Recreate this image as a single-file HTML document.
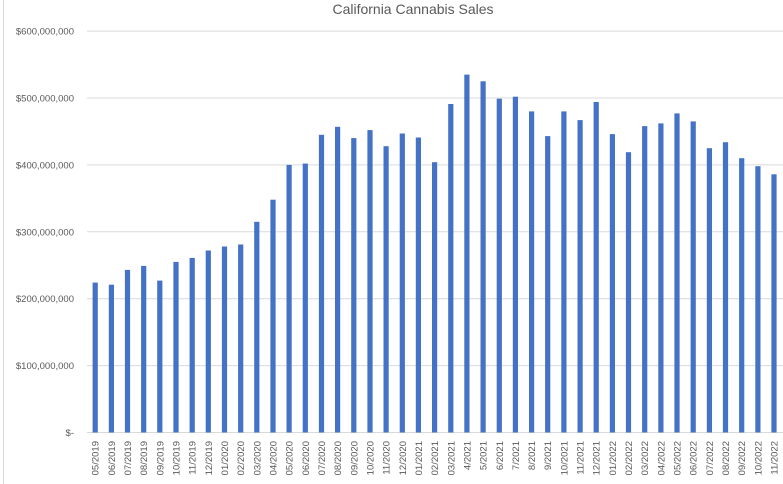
<!DOCTYPE html>
<html><head><style>body{margin:0;background:#fff}svg{display:block}</style></head><body>
<svg width="783" height="484" xmlns="http://www.w3.org/2000/svg" font-family="Liberation Sans, sans-serif">
<rect width="783" height="484" fill="#fff"/>
<line x1="3.5" y1="0" x2="3.5" y2="484" stroke="#d9d9d9"/>
<text x="413" y="14" text-anchor="middle" font-size="14" fill="#595959">California Cannabis Sales</text>
<g stroke="#d9d9d9">
<line x1="87" x2="783" y1="31.1" y2="31.1"/>
<line x1="87" x2="783" y1="98" y2="98"/>
<line x1="87" x2="783" y1="164.9" y2="164.9"/>
<line x1="87" x2="783" y1="231.8" y2="231.8"/>
<line x1="87" x2="783" y1="298.7" y2="298.7"/>
<line x1="87" x2="783" y1="365.6" y2="365.6"/>
<line x1="87" x2="783" y1="432.5" y2="432.5"/>
</g>
<g font-size="9.5" fill="#595959" text-anchor="end">
<text x="74" y="34.6">$600,000,000</text>
<text x="74" y="101.5">$500,000,000</text>
<text x="74" y="168.4">$400,000,000</text>
<text x="74" y="235.3">$300,000,000</text>
<text x="74" y="302.2">$200,000,000</text>
<text x="74" y="369.1">$100,000,000</text>
<text x="74" y="436">$-</text>
</g>
<g transform="translate(0,432.5) scale(1,-1)" fill="#4472c4">
<rect x="92.6" y="0" width="5.2" height="149.9"/>
<rect x="108.8" y="0" width="5.2" height="147.8"/>
<rect x="124.9" y="0" width="5.2" height="162.6"/>
<rect x="141.1" y="0" width="5.2" height="166.6"/>
<rect x="157.2" y="0" width="5.2" height="151.9"/>
<rect x="173.4" y="0" width="5.2" height="170.6"/>
<rect x="189.6" y="0" width="5.2" height="174.6"/>
<rect x="205.7" y="0" width="5.2" height="182.0"/>
<rect x="221.9" y="0" width="5.2" height="186.0"/>
<rect x="238.1" y="0" width="5.2" height="188.0"/>
<rect x="254.2" y="0" width="5.2" height="210.7"/>
<rect x="270.4" y="0" width="5.2" height="232.8"/>
<rect x="286.5" y="0" width="5.2" height="267.6"/>
<rect x="302.7" y="0" width="5.2" height="268.9"/>
<rect x="318.9" y="0" width="5.2" height="297.7"/>
<rect x="335.0" y="0" width="5.2" height="305.7"/>
<rect x="351.2" y="0" width="5.2" height="294.4"/>
<rect x="367.4" y="0" width="5.2" height="302.4"/>
<rect x="383.5" y="0" width="5.2" height="286.3"/>
<rect x="399.7" y="0" width="5.2" height="299.0"/>
<rect x="415.8" y="0" width="5.2" height="295.0"/>
<rect x="432.0" y="0" width="5.2" height="270.3"/>
<rect x="448.2" y="0" width="5.2" height="328.5"/>
<rect x="464.3" y="0" width="5.2" height="357.9"/>
<rect x="480.5" y="0" width="5.2" height="351.2"/>
<rect x="496.7" y="0" width="5.2" height="333.8"/>
<rect x="512.8" y="0" width="5.2" height="335.8"/>
<rect x="529.0" y="0" width="5.2" height="321.1"/>
<rect x="545.1" y="0" width="5.2" height="296.4"/>
<rect x="561.3" y="0" width="5.2" height="321.1"/>
<rect x="577.5" y="0" width="5.2" height="312.4"/>
<rect x="593.6" y="0" width="5.2" height="330.5"/>
<rect x="609.8" y="0" width="5.2" height="298.4"/>
<rect x="625.9" y="0" width="5.2" height="280.3"/>
<rect x="642.1" y="0" width="5.2" height="306.4"/>
<rect x="658.3" y="0" width="5.2" height="309.1"/>
<rect x="674.4" y="0" width="5.2" height="319.1"/>
<rect x="690.6" y="0" width="5.2" height="311.1"/>
<rect x="706.8" y="0" width="5.2" height="284.3"/>
<rect x="722.9" y="0" width="5.2" height="290.3"/>
<rect x="739.1" y="0" width="5.2" height="274.3"/>
<rect x="755.3" y="0" width="5.2" height="266.3"/>
<rect x="771.4" y="0" width="5.2" height="258.2"/>
</g>
<g font-size="9.5" fill="#595959" text-anchor="end">
<text x="98.7" y="441" transform="rotate(-90 98.7 441)">05/2019</text>
<text x="114.9" y="441" transform="rotate(-90 114.9 441)">06/2019</text>
<text x="131" y="441" transform="rotate(-90 131 441)">07/2019</text>
<text x="147.2" y="441" transform="rotate(-90 147.2 441)">08/2019</text>
<text x="163.3" y="441" transform="rotate(-90 163.3 441)">09/2019</text>
<text x="179.5" y="441" transform="rotate(-90 179.5 441)">10/2019</text>
<text x="195.7" y="441" transform="rotate(-90 195.7 441)">11/2019</text>
<text x="211.8" y="441" transform="rotate(-90 211.8 441)">12/2019</text>
<text x="228" y="441" transform="rotate(-90 228 441)">01/2020</text>
<text x="244.2" y="441" transform="rotate(-90 244.2 441)">02/2020</text>
<text x="260.3" y="441" transform="rotate(-90 260.3 441)">03/2020</text>
<text x="276.5" y="441" transform="rotate(-90 276.5 441)">04/2020</text>
<text x="292.6" y="441" transform="rotate(-90 292.6 441)">05/2020</text>
<text x="308.8" y="441" transform="rotate(-90 308.8 441)">06/2020</text>
<text x="325" y="441" transform="rotate(-90 325 441)">07/2020</text>
<text x="341.1" y="441" transform="rotate(-90 341.1 441)">08/2020</text>
<text x="357.3" y="441" transform="rotate(-90 357.3 441)">09/2020</text>
<text x="373.5" y="441" transform="rotate(-90 373.5 441)">10/2020</text>
<text x="389.6" y="441" transform="rotate(-90 389.6 441)">11/2020</text>
<text x="405.8" y="441" transform="rotate(-90 405.8 441)">12/2020</text>
<text x="421.9" y="441" transform="rotate(-90 421.9 441)">01/2021</text>
<text x="438.1" y="441" transform="rotate(-90 438.1 441)">02/2021</text>
<text x="454.3" y="441" transform="rotate(-90 454.3 441)">03/2021</text>
<text x="470.4" y="441" transform="rotate(-90 470.4 441)">4/2021</text>
<text x="486.6" y="441" transform="rotate(-90 486.6 441)">5/2021</text>
<text x="502.8" y="441" transform="rotate(-90 502.8 441)">6/2021</text>
<text x="518.9" y="441" transform="rotate(-90 518.9 441)">7/2021</text>
<text x="535.1" y="441" transform="rotate(-90 535.1 441)">8/2021</text>
<text x="551.2" y="441" transform="rotate(-90 551.2 441)">9/2021</text>
<text x="567.4" y="441" transform="rotate(-90 567.4 441)">10/2021</text>
<text x="583.6" y="441" transform="rotate(-90 583.6 441)">11/2021</text>
<text x="599.7" y="441" transform="rotate(-90 599.7 441)">12/2021</text>
<text x="615.9" y="441" transform="rotate(-90 615.9 441)">01/2022</text>
<text x="632" y="441" transform="rotate(-90 632 441)">02/2022</text>
<text x="648.2" y="441" transform="rotate(-90 648.2 441)">03/2022</text>
<text x="664.4" y="441" transform="rotate(-90 664.4 441)">04/2022</text>
<text x="680.5" y="441" transform="rotate(-90 680.5 441)">05/2022</text>
<text x="696.7" y="441" transform="rotate(-90 696.7 441)">06/2022</text>
<text x="712.9" y="441" transform="rotate(-90 712.9 441)">07/2022</text>
<text x="729" y="441" transform="rotate(-90 729 441)">08/2022</text>
<text x="745.2" y="441" transform="rotate(-90 745.2 441)">09/2022</text>
<text x="761.4" y="441" transform="rotate(-90 761.4 441)">10/2022</text>
<text x="777.5" y="441" transform="rotate(-90 777.5 441)">11/2022</text>
</g>
</svg>
</body></html>
